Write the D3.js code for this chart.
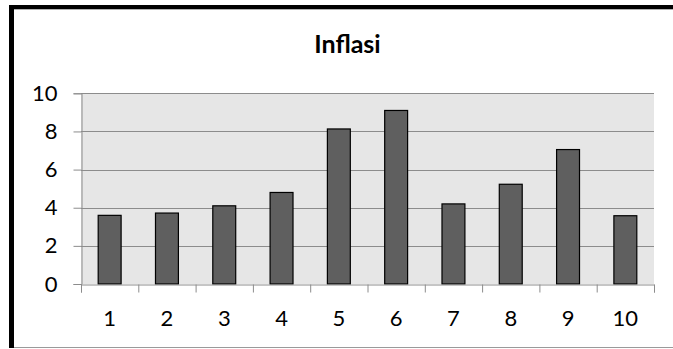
<!DOCTYPE html>
<html>
<head>
<meta charset="utf-8">
<script src="https://cdn.jsdelivr.net/npm/d3@7"></script>
<style>
  html, body { margin: 0; padding: 0; background: #fff; overflow: hidden; }
  svg { display: block; }
  text { font-family: Lato, "Open Sans", sans-serif; fill: #000; }
</style>
</head>
<body>
<svg id="chart" width="673" height="349"></svg>
<script>
// Inflation by period
const categories = ["1", "2", "3", "4", "5", "6", "7", "8", "9", "10"];
const inflasi = [3.6, 3.72, 4.1, 4.8, 8.13, 9.1, 4.2, 5.23, 7.05, 3.58];
const yTicks = [0, 2, 4, 6, 8, 10];
const title = "Inflasi";

const svg = d3.select("#chart");
const W = 673, H = 349;
const labelSize = 22;
const fontFamily = "Lato, 'Open Sans', sans-serif";

// Chart frame: heavy black left/top edges, thin gray bottom edge
svg.append("line").attr("x1", 9).attr("x2", W).attr("y1", 347.5).attr("y2", 347.5)
  .attr("stroke", "#9a9a9a").attr("stroke-width", 1);
svg.append("line").attr("x1", 9).attr("x2", W).attr("y1", 9.5).attr("y2", 9.5)
  .attr("stroke", "#b0b0b0").attr("stroke-width", 1);
svg.append("rect").attr("x", 9).attr("y", 5).attr("width", W - 9).attr("height", 4).attr("fill", "#000");
svg.append("rect").attr("x", 9).attr("y", 5).attr("width", 5).attr("height", H - 6).attr("fill", "#000");

const plot = { left: 81, right: 654, top: 93.3, bottom: 284 };

const y = d3.scaleLinear().domain([0, 10]).range([plot.bottom, plot.top]);
const x = d3.scaleBand().domain(categories).range([plot.left, plot.right])
  .paddingInner(0.6).paddingOuter(0.3);
const xSlots = d3.scaleLinear().domain([0, categories.length]).range([plot.left, plot.right]);

// Plot area background
svg.append("rect")
  .attr("x", plot.left).attr("y", plot.top)
  .attr("width", plot.right - plot.left).attr("height", plot.bottom - plot.top)
  .attr("fill", "#e6e6e6");

// Horizontal gridlines
svg.append("g").selectAll("line").data(yTicks.filter(d => d > 0)).join("line")
  .attr("x1", plot.left).attr("x2", plot.right)
  .attr("y1", d => Math.round(y(d)) + 0.5).attr("y2", d => Math.round(y(d)) + 0.5)
  .attr("stroke", "#8c8c8c").attr("stroke-width", 1);

// Y axis
const yAxis = svg.append("g").attr("transform", `translate(${plot.left + 0.5},0)`)
  .call(d3.axisLeft(y).tickValues(yTicks).tickSize(8).tickPadding(16).tickFormat(d3.format("d")));
yAxis.attr("font-size", labelSize).attr("font-family", fontFamily);
yAxis.select(".domain").attr("stroke", "#8c8c8c");
yAxis.selectAll(".tick line").attr("stroke", "#8c8c8c");
yAxis.selectAll(".tick text").attr("fill", "#000");

// Bars
svg.append("g").selectAll("rect").data(inflasi).join("rect")
  .attr("x", (d, i) => x(categories[i]))
  .attr("y", d => y(d))
  .attr("width", x.bandwidth())
  .attr("height", d => plot.bottom - y(d))
  .attr("fill", "#5f5f5f")
  .attr("stroke", "#000").attr("stroke-width", 1.2);

// X axis: tick marks at category boundaries
const xAxis = svg.append("g").attr("transform", `translate(0,${plot.bottom + 0.5})`)
  .call(d3.axisBottom(xSlots).ticks(categories.length).tickSize(8).tickFormat(""));
xAxis.select(".domain").attr("stroke", "#8c8c8c");
xAxis.selectAll(".tick line").attr("stroke", "#8c8c8c");

// X axis labels centred in each category
const xLabels = svg.append("g").attr("transform", `translate(0,${plot.bottom})`)
  .call(d3.axisBottom(x).tickSize(0).tickPadding(26));
xLabels.attr("font-size", labelSize).attr("font-family", fontFamily);
xLabels.select(".domain").remove();
xLabels.selectAll(".tick text").attr("fill", "#000");

// Title
svg.append("text")
  .attr("x", 347.5).attr("y", 53)
  .attr("text-anchor", "middle")
  .attr("font-family", fontFamily)
  .attr("font-size", 25).attr("font-weight", "bold")
  .text(title);
</script>
</body>
</html>
